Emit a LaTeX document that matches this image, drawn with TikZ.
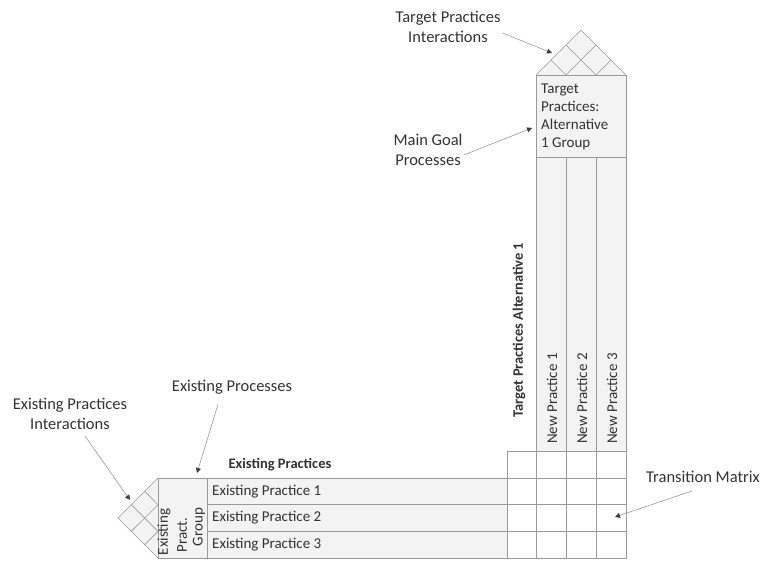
\documentclass[tikz,border=0pt]{standalone}
\usepackage{fontspec}
\setmainfont{Carlito}
\usetikzlibrary{arrows.meta}
\definecolor{txt}{HTML}{333333}
\definecolor{gridc}{HTML}{9A9A9A}
\definecolor{cellc}{HTML}{F3F3F3}
\begin{document}
\begin{tikzpicture}[x=1pt,y=-1pt,
  grid/.style={draw=gridc, line width=0.6pt},
  cellfill/.style={fill=cellc},
  lbl/.style={font=\fontsize{15}{18}\selectfont, text=txt, inner sep=0pt},
  blbl/.style={lbl, font=\fontsize{14.5}{18}\selectfont\bfseries},
  note/.style={lbl, align=center, font=\fontsize{16.5}{20}\selectfont},
  pointer/.style={draw=gray!80, line width=0.6pt, -{Triangle[length=5pt,width=5pt,color=black!75]}}]
\useasboundingbox (0,0) rectangle (763,563);
% fills
\fill[cellfill] (158,478) rectangle (507,558);
\fill[cellfill] (536,75) rectangle (626,451);
\fill[cellfill] (536,75) -- (581,30) -- (626,75) -- cycle;
\fill[cellfill] (158,478) -- (118,518) -- (158,558) -- cycle;
% existing practices table
\draw[grid] (158,478) rectangle (507,558);
\draw[grid] (207,478) -- (207,558);
\draw[grid] (207,504.67) -- (507,504.67);
\draw[grid] (207,531.33) -- (507,531.33);
% transition matrix
\draw[grid] (507,451) rectangle (626,558);
\foreach \x in {536,566,596} \draw[grid] (\x,451) -- (\x,558);
\foreach \y in {478,504.67,531.33} \draw[grid] (507,\y) -- (626,\y);
% target practice columns
\draw[grid] (536,75) rectangle (626,451);
\draw[grid] (536,157) -- (626,157);
\draw[grid] (566,157) -- (566,451);
\draw[grid] (596,157) -- (596,451);
% top roof
\draw[grid] (536,75) -- (581,30) -- (626,75);
\draw[grid] (551,60) -- (566,75) -- (596,45);
\draw[grid] (566,45) -- (596,75) -- (611,60);
% left roof
\draw[grid] (158,478) -- (118,518) -- (158,558);
\draw[grid] (144.67,491.33) -- (158,504.67) -- (131.33,531.33);
\draw[grid] (131.33,504.67) -- (158,531.33) -- (144.67,544.67);
% texts
\node[blbl] (eph) at (280,465) {Existing Practices};
\node[lbl, anchor=west] (ep1) at (212,491.3) {Existing Practice 1};
\node[lbl, anchor=west] (ep2) at (212,518) {Existing Practice 2};
\node[lbl, anchor=west] (ep3) at (212,544.7) {Existing Practice 3};
\node[lbl, rotate=90] (g1) at (164,532) {Existing};
\node[lbl, rotate=90] (g2) at (182,535) {Pract.};
\node[lbl, rotate=90] (g3) at (199,527) {Group};
\node[lbl, rotate=90, anchor=west] (np1) at (552,444) {New Practice 1};
\node[lbl, rotate=90, anchor=west] (np2) at (582,444) {New Practice 2};
\node[lbl, rotate=90, anchor=west] (np3) at (612,444) {New Practice 3};
\node[blbl, rotate=90] (tpa) at (519,330) {Target Practices Alternative 1};
\node[lbl, anchor=north west, align=left] (tpg) at (541,84) {Target\\Practices:\\Alternative\\1 Group};
% annotations
\node[note] (tpi) at (448,27) {Target Practices\\Interactions};
\coordinate (tpiend) at (552,53);
\draw[pointer] ([xshift=2pt,yshift=-6pt]tpi.east) -- (tpiend);
\node[note] (mgp) at (428,150) {Main Goal\\Processes};
\coordinate (mgpend) at (532,128);
\draw[pointer] ([xshift=1pt,yshift=-5pt]mgp.east) -- (mgpend);
\node[lbl, font=\fontsize{16.5}{20}\selectfont] (exp) at (232,387) {Existing Processes};
\coordinate (expend) at (197,473);
\draw[pointer] ([xshift=-14pt,yshift=-10pt]exp.south) -- (expend);
\node[note] (epi) at (70,414) {Existing Practices\\Interactions};
\coordinate (epiend) at (130,500);
\draw[pointer] ([xshift=15pt,yshift=-6pt]epi.south) -- (epiend);
\node[lbl, font=\fontsize{16.5}{20}\selectfont] (tm) at (703,477) {Transition Matrix};
\coordinate (tmend) at (615,517);
\draw[pointer] ([xshift=-11pt,yshift=-8pt]tm.south) -- (tmend);
\end{tikzpicture}
\end{document}
